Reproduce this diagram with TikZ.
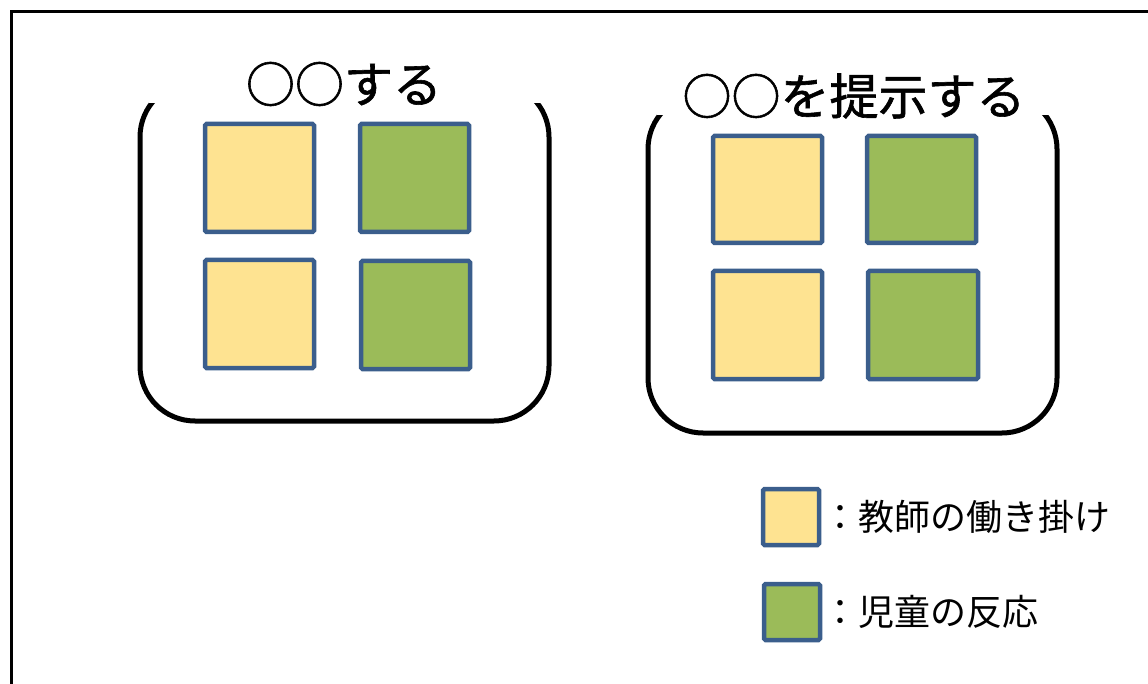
\documentclass[tikz,border=0pt]{standalone}
\usepackage{fontspec}
\newfontfamily\jp{Noto Sans CJK JP}
\newfontfamily\jpb{Noto Sans CJK JP}[FakeBold=1.2]
\definecolor{sqborder}{HTML}{3B5E8C}
\definecolor{teacher}{HTML}{FEE391}
\definecolor{child}{HTML}{9BBB59}
\tikzset{
  sq/.style={draw=sqborder, line width=4.5pt, rounded corners=1.5pt},
  grp/.style={draw=black, line width=5pt, rounded corners=55pt},
  cover/.style={fill=white, draw=none},
  title/.style={font=\jpb\fontsize{49}{53}\selectfont, inner sep=0pt},
  legtext/.style={font=\jp\fontsize{36}{40}\selectfont, anchor=west, inner sep=0pt}
}
\begin{document}
\begin{tikzpicture}[x=1pt,y=-1pt]
\useasboundingbox (0,0) rectangle (1148,684);
\clip (0,0) rectangle (1148,684);
\fill[white] (0,0) rectangle (1148,684);
% outer frame
\draw[line width=3pt] (11,12) rectangle (1170,720);
% left group
\draw[grp] (140,82) rectangle (549,421);
\fill[cover] (149,50) rectangle (541,103);
\node[title] (t1) at (344,84) {○○する};
\draw[sq, fill=teacher] (205,124) rectangle (314,232);
\draw[sq, fill=child] (360,124) rectangle (469,232);
\draw[sq, fill=teacher] (205,260) rectangle (314,368);
\draw[sq, fill=child] (361,261) rectangle (470,369);
% right group
\draw[grp] (648,94) rectangle (1057,433);
\fill[cover] (657,62) rectangle (1049,115);
\node[title] (t2) at (854,96) {○○を提示する};
\draw[sq, fill=teacher] (713,136) rectangle (822,243);
\draw[sq, fill=child] (867,136) rectangle (976,243);
\draw[sq, fill=teacher] (713,271) rectangle (822,379);
\draw[sq, fill=child] (868,271) rectangle (978,379);
% legend
\draw[sq, fill=teacher] (763,489) rectangle (819,545);
\node[legtext] (l1) at (822,517) {：教師の働き掛け};
\draw[sq, fill=child] (764,584) rectangle (820,640);
\node[legtext] (l2) at (822,612) {：児童の反応};
\end{tikzpicture}
\end{document}
